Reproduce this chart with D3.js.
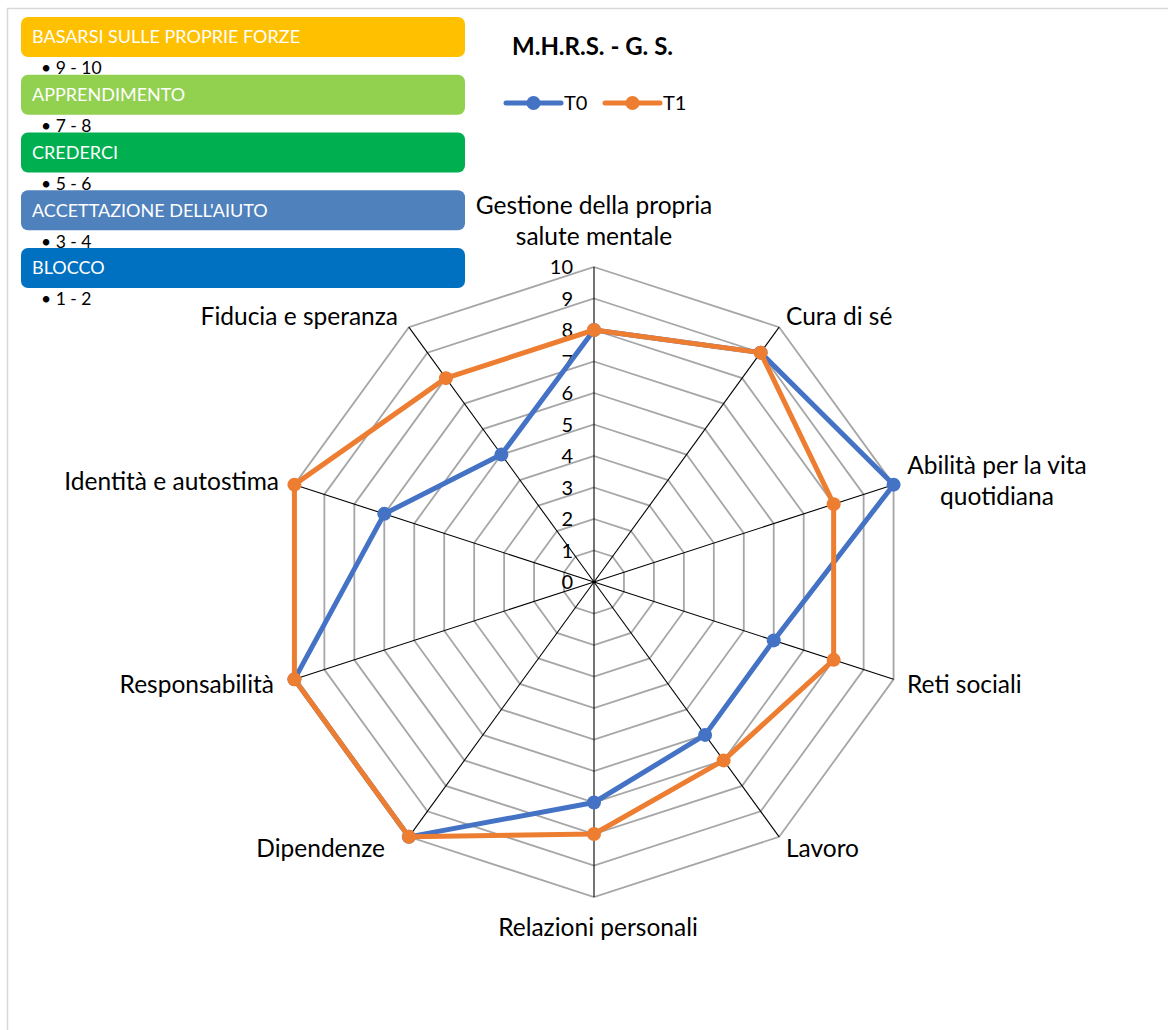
<!DOCTYPE html>
<html>
<head>
<meta charset="utf-8">
<script src="https://cdn.jsdelivr.net/npm/d3@7"></script>
<style>
  html, body { margin: 0; padding: 0; background: #fff; }
  svg { display: block; font-family: "Lato", "Open Sans", sans-serif; }
</style>
</head>
<body>
<svg id="chart" width="1168" height="1030"></svg>
<script>
// Recovery star dimensions, clockwise from the top
const categories = [
  ["Gestione della propria", "salute mentale"],
  ["Cura di sé"],
  ["Abilità per la vita", "quotidiana"],
  ["Reti sociali"],
  ["Lavoro"],
  ["Relazioni personali"],
  ["Dipendenze"],
  ["Responsabilità"],
  ["Identità e autostima"],
  ["Fiducia e speranza"]
];
const seriesNames = ["T0", "T1"];
const valuesT0 = [8, 9, 10, 6, 6, 7, 10, 10, 7, 5];
const valuesT1 = [8, 9, 8, 8, 7, 8, 10, 10, 10, 8];
const tickValues = [0, 1, 2, 3, 4, 5, 6, 7, 8, 9, 10];

// Recovery stages and score ranges
const stageNames = ["BASARSI SULLE PROPRIE FORZE", "APPRENDIMENTO", "CREDERCI", "ACCETTAZIONE DELL'AIUTO", "BLOCCO"];
const stageRanges = ["9 - 10", "7 - 8", "5 - 6", "3 - 4", "1 - 2"];
const stageColors = ["#FFC000", "#92D050", "#00B050", "#4F81BD", "#0070C0"];

const chartTitle = "M.H.R.S. - G. S.";
const seriesColors = ["#4472C4", "#ED7D31"];

const svg = d3.select("#chart");

// outer frame
svg.append("path")
  .attr("d", "M7.5,1030 L7.5,8.5 L1168,8.5")
  .attr("fill", "none").attr("stroke", "#d9d9d9").attr("stroke-width", 1.5);

const cx = 594, cy = 582, R = 315;
const n = categories.length;
const r = d3.scaleLinear().domain([0, 10]).range([0, R]);
const angle = d3.scaleLinear().domain([0, n]).range([0, 2 * Math.PI]);
const px = (i, v) => cx + r(v) * Math.sin(angle(i));
const py = (i, v) => cy - r(v) * Math.cos(angle(i));

const g = svg.append("g");

// grid rings
tickValues.filter(t => t > 0).forEach(t => {
  const pts = d3.range(n).map(i => [px(i, t), py(i, t)]);
  g.append("path")
    .attr("d", d3.line().curve(d3.curveLinearClosed)(pts))
    .attr("fill", "none").attr("stroke", "#a6a6a6").attr("stroke-width", 1.8);
});

// spokes
d3.range(n).forEach(i => {
  g.append("line")
    .attr("x1", cx).attr("y1", cy)
    .attr("x2", px(i, 10)).attr("y2", py(i, 10))
    .attr("stroke", "#000").attr("stroke-width", 1.1);
});

// tick labels
g.selectAll("text.tick").data(tickValues).join("text")
  .attr("class", "tick")
  .attr("x", cx - 21).attr("y", d => cy - r(d))
  .attr("dy", "0.36em")
  .attr("text-anchor", "end")
  .attr("font-size", 20).attr("fill", "#000")
  .text(d => d);

// category labels (x, vertical centre of the first line, anchor)
const labelPos = [
  {x: 594, y: 205, anchor: "middle"},
  {x: 786, y: 316, anchor: "start"},
  {x: 997, y: 465, anchor: "middle"},
  {x: 907, y: 684, anchor: "start"},
  {x: 786, y: 848, anchor: "start"},
  {x: 598, y: 927, anchor: "middle"},
  {x: 385, y: 848, anchor: "end"},
  {x: 274, y: 684, anchor: "end"},
  {x: 279, y: 481, anchor: "end"},
  {x: 398, y: 316, anchor: "end"}
];
categories.forEach((lines, i) => {
  const p = labelPos[i];
  const t = g.append("text")
    .attr("x", p.x).attr("y", p.y)
    .attr("text-anchor", p.anchor)
    .attr("font-size", 24.5).attr("fill", "#000");
  lines.forEach((ln, k) => {
    t.append("tspan").attr("x", p.x)
      .attr("y", p.y + k * 31).attr("dy", "0.36em").text(ln);
  });
});

// series
const allSeries = [valuesT0, valuesT1];
allSeries.forEach((vals, s) => {
  const pts = vals.map((v, i) => [px(i, v), py(i, v)]);
  g.append("path")
    .attr("d", d3.line().curve(d3.curveLinearClosed)(pts))
    .attr("fill", "none").attr("stroke", seriesColors[s])
    .attr("stroke-width", 5).attr("stroke-linejoin", "round");
  g.selectAll(null).data(pts).join("circle")
    .attr("cx", d => d[0]).attr("cy", d => d[1])
    .attr("r", 7).attr("fill", seriesColors[s]);
});

// title
svg.append("text")
  .attr("x", 512).attr("y", 55)
  .attr("font-size", 24).attr("font-weight", "bold").attr("fill", "#000")
  .text(chartTitle);

// series legend
const legX = [506, 605];
seriesNames.forEach((name, s) => {
  const lg = svg.append("g");
  lg.append("line")
    .attr("x1", legX[s]).attr("x2", legX[s] + 55)
    .attr("y1", 103).attr("y2", 103)
    .attr("stroke", seriesColors[s]).attr("stroke-width", 5).attr("stroke-linecap", "round");
  lg.append("circle").attr("cx", legX[s] + 27.5).attr("cy", 103).attr("r", 7).attr("fill", seriesColors[s]);
  lg.append("text").attr("x", legX[s] + 58).attr("y", 103).attr("dy", "0.36em")
    .attr("font-size", 20).attr("fill", "#000").text(name);
});

// stage boxes
const stepY = 57.75;
stageNames.forEach((name, k) => {
  const y0 = 17 + k * stepY;
  svg.append("rect")
    .attr("x", 21).attr("y", y0).attr("width", 444).attr("height", 40)
    .attr("rx", 7).attr("fill", stageColors[k]);
  svg.append("text")
    .attr("x", 32).attr("y", y0 + 20).attr("dy", "0.36em")
    .attr("font-size", 18).attr("fill", "#fff")
    .text(name);
  svg.append("text")
    .attr("x", 41).attr("y", y0 + 51).attr("dy", "0.36em")
    .attr("font-size", 17.5).attr("fill", "#000")
    .text("\u2022 " + stageRanges[k]);
});
</script>
</body>
</html>
